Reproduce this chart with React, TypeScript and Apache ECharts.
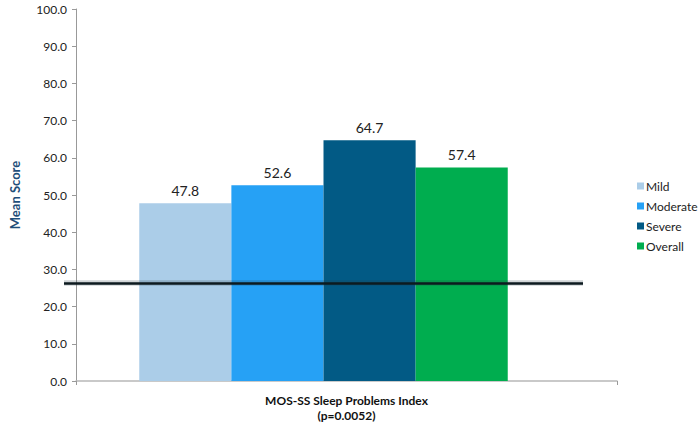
import React, { useEffect, useRef } from "react";
import * as echarts from "echarts";

const categories = ["MOS-SS Sleep Problems Index\n(p=0.0052)"];
const seriesNames = ["Mild", "Moderate", "Severe", "Overall"];
const seriesValues = [47.8, 52.6, 64.7, 57.4];
const seriesColors = ["#abcde8", "#26a1f5", "#025a85", "#00ad4f"];
const referenceLine = 26.3;
const yMin = 0;
const yMax = 100;
const yInterval = 10;

export default function App() {
  const ref = useRef<HTMLDivElement>(null);
  useEffect(() => {
    if (!ref.current) return;
    const chart = echarts.init(ref.current, null, { renderer: "svg" });
    const font = "Lato, 'Open Sans', sans-serif";
    const series: any[] = seriesNames.map((name, i) => ({
      name,
      type: "bar",
      xAxisIndex: 1,
      yAxisIndex: 1,
      data: [seriesValues[i]],
      barGap: "0%",
      barCategoryGap: "29%",
      itemStyle: { color: seriesColors[i] },
      label: {
        show: true,
        position: "top",
        distance: 6,
        formatter: (p: any) => Number(p.value).toFixed(1),
        color: "#222",
        fontSize: 14,
        fontFamily: font,
      },
    }));
    // reference line as a markLine-only series (drawn through the y scale)
    series.push({
      name: "ref",
      type: "line",
      xAxisIndex: 1,
      yAxisIndex: 1,
      data: [],
      symbol: "none",
      silent: true,
      z: 10,
      markLine: {
        silent: true,
        symbol: ["none", "none"],
        label: { show: false },
        lineStyle: { color: "#0d1a1f", width: 2.5, type: "solid", opacity: 1 },
        data: [
          { yAxis: referenceLine, lineStyle: { color: "rgba(40,60,70,0.22)", width: 5.5, type: "solid" } },
          { yAxis: referenceLine, lineStyle: { color: "#0d1a1f", width: 2.5, type: "solid" } },
        ],
      },
    });
    chart.setOption({
      animation: false,
      backgroundColor: "#ffffff",
      textStyle: { fontFamily: font },
      legend: {
        orient: "vertical",
        left: 632,
        top: 175,
        itemWidth: 7,
        itemHeight: 7,
        itemGap: 8,
        icon: "rect",
        data: seriesNames,
        textStyle: { fontSize: 12, color: "#222", fontFamily: font, padding: [0, 0, 0, -3] },
      },
      grid: [
        { left: 64, right: 83, top: 9, bottom: 46, containLabel: false },
        { left: 64, right: 117, top: 9, bottom: 46, containLabel: false },
      ],
      xAxis: [
        {
          gridIndex: 0,
          type: "category",
          data: categories,
          axisLine: { show: true, lineStyle: { color: "#b8b8b8", width: 1.5 } },
          axisTick: { show: true, length: 4, lineStyle: { color: "#999" } },
          axisLabel: {
            color: "#111",
            fontWeight: "bold",
            fontSize: 12,
            lineHeight: 15,
            margin: 12,
            fontFamily: font,
          },
        },
        {
          gridIndex: 1,
          type: "category",
          data: categories,
          show: false,
        },
      ],
      yAxis: [
        {
          gridIndex: 0,
          type: "value",
          min: yMin,
          max: yMax,
          interval: yInterval,
          name: "Mean Score",
          nameLocation: "middle",
          nameGap: 55,
          nameRotate: 90,
          nameTextStyle: { color: "#1f4e79", fontWeight: "bold", fontSize: 13, fontFamily: font },
          axisLine: { show: true, lineStyle: { color: "#999" } },
          axisTick: { show: true, length: 4, lineStyle: { color: "#999" } },
          splitLine: { show: false },
          axisLabel: {
            color: "#222",
            fontSize: 12,
            margin: 9,
            fontFamily: font,
            formatter: (v: number) => v.toFixed(1),
          },
        },
        {
          gridIndex: 1,
          type: "value",
          min: yMin,
          max: yMax,
          interval: yInterval,
          show: false,
          splitLine: { show: false },
        },
      ],
      series,
    });
    return () => chart.dispose();
  }, []);
  return (
    <div
      ref={ref}
      style={{ position: "absolute", left: 0, top: 0, width: 700, height: 427 }}
    />
  );
}
